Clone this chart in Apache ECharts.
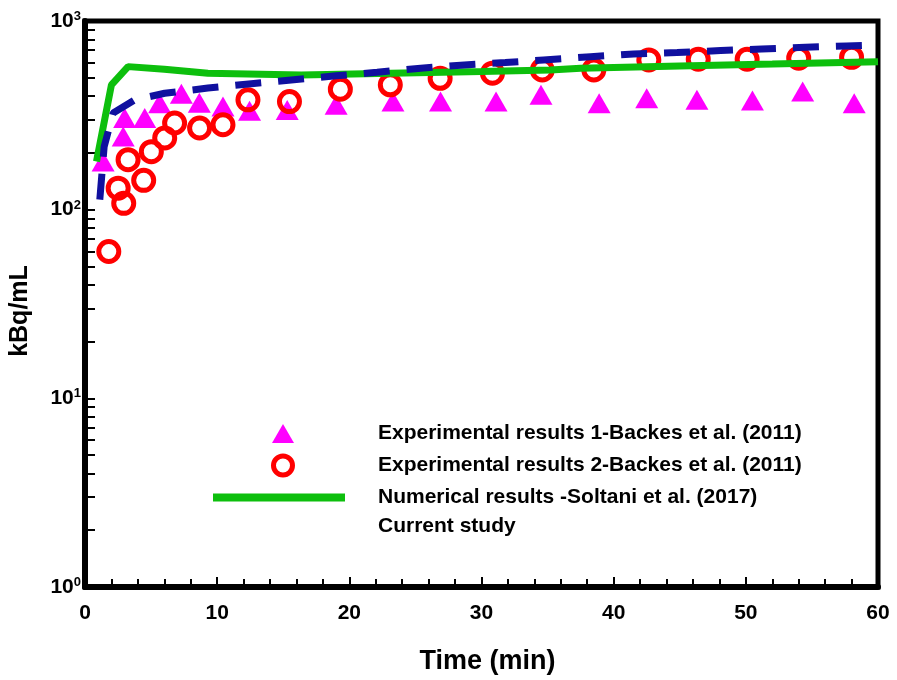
<!DOCTYPE html>
<html>
<head>
<meta charset="utf-8">
<script src="https://cdn.jsdelivr.net/npm/echarts@6/dist/echarts.min.js"></script>
<style>
html,body{margin:0;padding:0;background:#fff;}
#chart{width:897px;height:680px;}
</style>
</head>
<body>
<div id="chart"></div>
<script>
// Experimental results 1 (triangles): [time (min), kBq/mL]
const exp1Time  = [1.37, 2.89, 3.0, 4.52, 5.65, 7.29, 8.65, 10.44, 12.45, 15.3, 19.0, 23.3, 26.9, 31.1, 34.5, 38.9, 42.5, 46.3, 50.5, 54.3, 58.2];
const exp1Value = [180, 244, 306, 306, 367, 411, 369, 352, 334, 338, 360, 374, 374, 374, 406, 367, 390, 382, 379, 423, 367];

// Experimental results 2 (circles)
const exp2Time  = [1.8, 2.51, 2.93, 3.26, 4.44, 5.02, 6.03, 6.78, 8.67, 10.44, 12.33, 15.47, 19.32, 23.1, 26.87, 30.83, 34.6, 38.5, 42.66, 46.4, 50.1, 54.0, 58.0];
const exp2Value = [60, 130, 108, 184, 143, 203, 240, 288, 271, 282, 382, 374, 435, 459, 497, 529, 550, 550, 622, 627, 627, 635, 642];

// Numerical results - Soltani et al. (2017)
const numTime  = [0.87, 2.0, 3.26, 6.0, 9.3, 16.35, 23.15, 30, 35.2, 37.5, 45, 52, 60];
const numValue = [180, 459, 573, 555, 529, 518, 529, 540, 550, 562, 578, 592, 609];

// Current study
const curTime  = [1.12, 1.45, 2.13, 3.76, 6.03, 9.3, 12.58, 15.6, 19.0, 22.1, 25.4, 28.7, 31.8, 34.7, 38.25, 41.5, 44.8, 48.1, 51.2, 54.5, 57.6, 59.6];
const curValue = [113, 216, 325, 382, 414, 441, 465, 487, 512, 535, 562, 585, 602, 622, 647, 669, 680, 697, 711, 726, 737, 744];

const seriesNames = [
  'Experimental results 1-Backes et al. (2011)',
  'Experimental results 2-Backes et al. (2011)',
  'Numerical results -Soltani et al. (2017)',
  'Current study'
];

const xTicks = [0, 10, 20, 30, 40, 50, 60];
const yLabelValues = [1, 10, 100, 1000];
const yTickValues = [1,2,3,4,5,6,7,8,9,10,20,30,40,50,60,70,80,90,100,200,300,400,500,600,700,800,900,1000];

const zip = (a, b) => a.map((v, i) => [v, b[i]]);
const FONT = '"Liberation Sans", Arial, sans-serif';

// legend icons: invisible move-to corners fix the icon box to itemWidth x itemHeight
const triIcon = 'path://M0,0M132,22M59,21L70,2L81,21Z';
const cirIcon = 'path://M0,0M132,22M70,1.5A9.5,9.5,0,1,1,69.99,1.5Z';

const chart = echarts.init(document.getElementById('chart'), null, {renderer: 'canvas'});
chart.setOption({
  animation: false,
  backgroundColor: '#ffffff',
  grid: {
    left: 84, right: 19, top: 21, bottom: 92,
    show: true, borderColor: '#000', borderWidth: 5, backgroundColor: 'transparent'
  },
  xAxis: {
    type: 'value',
    min: xTicks[0], max: xTicks[xTicks.length - 1], interval: 10,
    name: 'Time (min)',
    nameLocation: 'middle',
    nameGap: 61,
    nameTextStyle: {fontFamily: FONT, fontWeight: 'bold', fontSize: 27, color: '#000', padding: [0, 0, 0, 12]},
    axisLine: {show: true, onZero: false, lineStyle: {color: '#000', width: 6}},
    axisTick: {show: true, inside: true, length: 10, lineStyle: {color: '#000', width: 2}},
    minorTick: {show: true, splitNumber: 5, length: 8, lineStyle: {color: '#000', width: 2}},
    splitLine: {show: false},
    axisLabel: {margin: 16, fontFamily: FONT, fontWeight: 'bold', fontSize: 21, color: '#000'}
  },
  yAxis: {
    type: 'log',
    min: yLabelValues[0], max: yLabelValues[yLabelValues.length - 1],
    logBase: 10,
    name: 'kBq/mL',
    nameLocation: 'middle',
    nameGap: 52,
    nameTextStyle: {fontFamily: FONT, fontWeight: 'bold', fontSize: 25, color: '#000', padding: [0, 14, 0, 0]},
    axisLine: {show: true, onZero: false, lineStyle: {color: '#000', width: 6}},
    axisTick: {show: true, inside: true, length: 10, customValues: yTickValues, lineStyle: {color: '#000', width: 2}},
    minorTick: {show: false},
    splitLine: {show: false},
    axisLabel: {
      margin: 4,
      customValues: yLabelValues,
      formatter: v => '{a|10}{b|' + Math.round(Math.log10(v)) + '}',
      rich: {
        a: {fontFamily: FONT, fontWeight: 'bold', fontSize: 21, lineHeight: 22, color: '#000'},
        b: {fontFamily: FONT, fontWeight: 'bold', fontSize: 13, lineHeight: 13, verticalAlign: 'top', color: '#000'}
      }
    }
  },
  legend: {
    orient: 'vertical',
    left: 209, top: 422, padding: 0,
    itemWidth: 132, itemHeight: 22, itemGap: 8,
    textStyle: {fontFamily: FONT, fontWeight: 'bold', fontSize: 21, color: '#000', padding: [0, 0, 0, 28]},
    data: [
      {name: seriesNames[0], icon: triIcon},
      {name: seriesNames[1], icon: cirIcon, itemStyle: {borderWidth: 5}},
      {name: seriesNames[2], itemStyle: {opacity: 0}, lineStyle: {width: 8, opacity: 1}},
      {name: seriesNames[3], itemStyle: {opacity: 0}, lineStyle: {opacity: 0}}
    ]
  },
  series: [
    {
      name: seriesNames[0], type: 'scatter',
      symbol: 'triangle', symbolSize: [23, 20],
      itemStyle: {color: '#ff00ff', opacity: 1},
      data: zip(exp1Time, exp1Value), z: 2
    },
    {
      name: seriesNames[1], type: 'scatter',
      symbol: 'circle', symbolSize: 20,
      itemStyle: {color: 'rgba(255,255,255,0)', borderColor: '#ff0000', borderWidth: 5, opacity: 1},
      data: zip(exp2Time, exp2Value), z: 3
    },
    {
      name: seriesNames[2], type: 'line',
      symbol: 'none', showSymbol: false,
      lineStyle: {color: '#0dbf0d', width: 7},
      itemStyle: {color: '#0dbf0d'},
      data: zip(numTime, numValue), z: 4
    },
    {
      name: seriesNames[3], type: 'line',
      symbol: 'none', showSymbol: false,
      lineStyle: {color: '#10109f', width: 7, type: [26, 17]},
      itemStyle: {color: '#10109f'},
      data: zip(curTime, curValue), z: 5
    }
  ]
});
</script>
</body>
</html>
